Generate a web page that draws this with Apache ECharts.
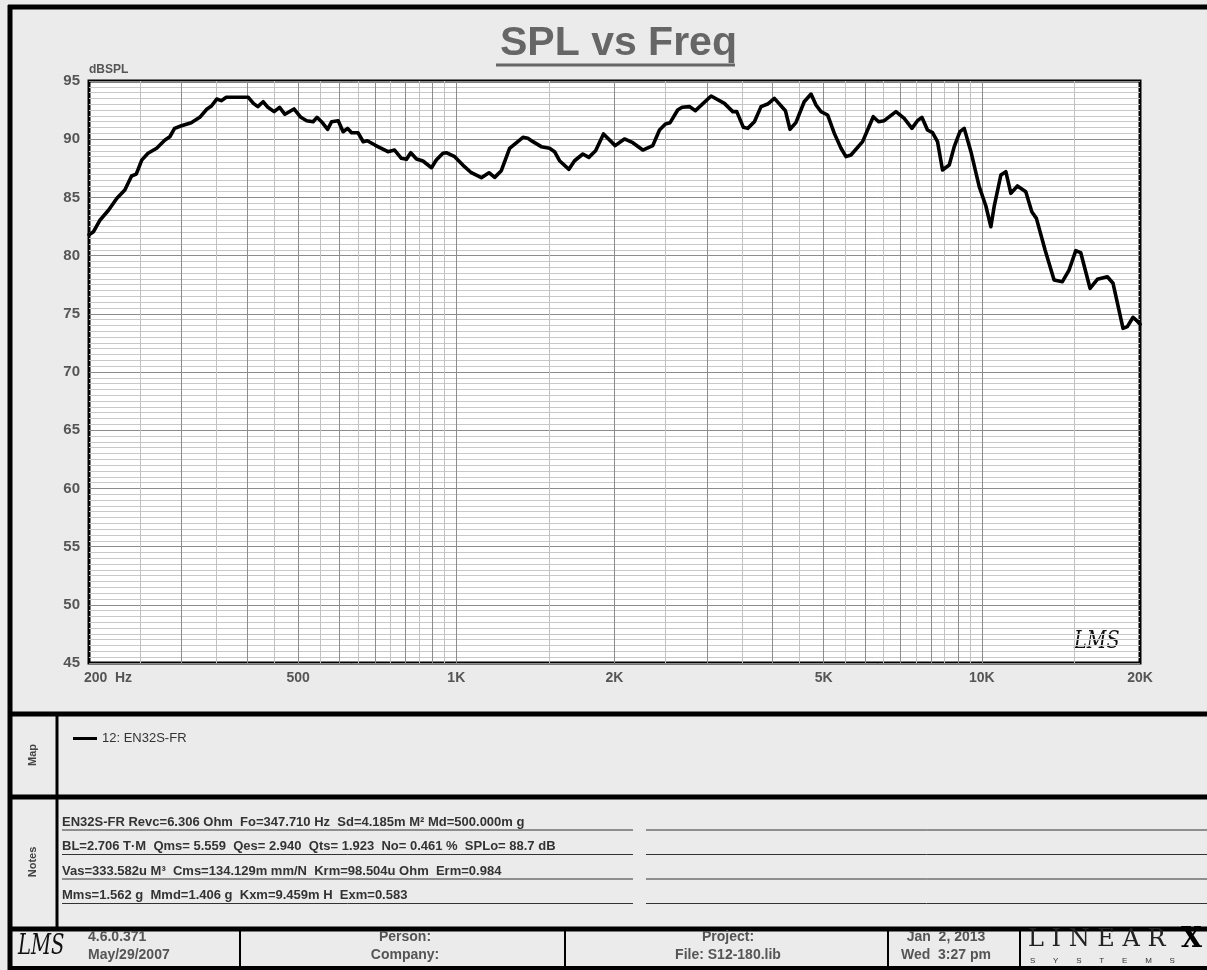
<!DOCTYPE html>
<html style="height: 100%">
  <head>
    <meta charset="utf-8" />
  </head>
  <body style="height: 100%; margin: 0">
    <div id="container" style="width: 1207px; height: 970px"></div>

    <script
      type="text/javascript"
      src="https://cdn.jsdelivr.net/npm/echarts@6/dist/echarts.min.js"
    ></script>

    <script type="text/javascript">
      var freqs = [
        200, 204, 210, 218, 226, 234, 241, 246, 252, 259, 269, 279, 285, 291,
        300, 313, 325, 335, 342, 350, 357, 365, 380, 402, 411, 419, 429, 438,
        450, 461, 472, 491, 506, 519, 534, 543, 554, 569, 579, 596, 609, 621,
        632, 650, 665, 677, 700, 720, 741, 763, 786, 804, 819, 840, 864, 897,
        916, 943, 957, 993, 1029, 1068, 1116, 1154, 1183, 1218, 1263, 1339,
        1368, 1399, 1451, 1505, 1538, 1572, 1638, 1679, 1741, 1787, 1841, 1906,
        2006, 2089, 2167, 2264, 2365, 2436, 2500, 2552, 2638, 2690, 2777, 2851,
        3054, 3237, 3358, 3417, 3518, 3585, 3692, 3801, 3913, 4030, 4229, 4315,
        4428, 4592, 4732, 4836, 4943, 5088, 5240, 5396, 5515, 5637, 5931, 6062,
        6215, 6362, 6522, 6865, 7118, 7362, 7544, 7691, 7882, 8058, 8236, 8418,
        8670, 8862, 9086, 9259, 9534, 9887, 10180, 10405, 10555, 10870, 11110,
        11357, 11688, 12126, 12448, 12703, 13195, 13725, 14234, 14657, 15094,
        15428, 16068, 16592, 17334, 17772, 18566, 18920, 19400, 19740, 20000
      ];
      var spl = [
        81.8, 82.05, 83.06, 83.92, 84.92, 85.64, 86.84, 87.0, 88.2, 88.79,
        89.22, 89.93, 90.21, 90.93, 91.16, 91.42, 91.88, 92.57, 92.85, 93.45,
        93.31, 93.6, 93.6, 93.6, 93.08, 92.8, 93.22, 92.74, 92.37, 92.74, 92.14,
        92.6, 91.88, 91.59, 91.5, 91.88, 91.5, 90.85, 91.5, 91.59, 90.64, 90.93,
        90.56, 90.56, 89.78, 89.87, 89.5, 89.22, 88.93, 89.07, 88.36, 88.27,
        88.84, 88.3, 88.13, 87.55, 88.21, 88.79, 88.84, 88.5, 87.78, 87.12,
        86.69, 87.12, 86.72, 87.29, 89.22, 90.16, 90.08, 89.79, 89.36, 89.22,
        88.93, 88.15, 87.41, 88.15, 88.73, 88.44, 89.01, 90.45, 89.45, 90.02,
        89.7, 89.07, 89.45, 90.79, 91.31, 91.42, 92.51, 92.74, 92.8, 92.45,
        93.71, 93.08, 92.37, 92.37, 91.02, 90.93, 91.5, 92.8, 93.02, 93.51,
        92.45, 90.85, 91.42, 93.22, 93.88, 92.94, 92.37, 92.08, 90.5, 89.22,
        88.5, 88.64, 89.79, 90.79, 91.93, 91.5, 91.59, 92.37, 91.79, 90.93,
        91.59, 91.88, 90.79, 90.56, 89.79, 87.35, 87.78, 89.36, 90.65, 90.93,
        88.93, 85.92, 84.26, 82.48, 84.2, 86.92, 87.21, 85.35, 85.98, 85.49,
        83.77, 83.2, 80.48, 77.9, 77.76, 78.76, 80.42, 80.25, 77.19, 77.96,
        78.18, 77.62, 73.75, 73.9, 74.7, 74.4, 74.1
      ];

      var seriesName = "12: EN32S-FR";
      var freqTicks = [200, 500, 1000, 2000, 5000, 10000, 20000];
      var freqTickLabels = ["200  Hz", "500", "1K", "2K", "5K", "10K", "20K"];
      // vertical grid: darker at whole hundreds/thousands, lighter at halves
      var gridMajor = [
        300, 400, 500, 600, 700, 800, 900, 1000, 2000, 3000, 4000, 5000, 6000,
        7000, 8000, 9000, 10000
      ];
      var gridMinor = [
        250, 350, 450, 550, 650, 750, 850, 950, 1500, 2500, 3500, 4500, 5500,
        6500, 7500, 8500, 9500, 15000
      ];

      var noteLines = [
        "EN32S-FR Revc=6.306 Ohm  Fo=347.710 Hz  Sd=4.185m M\u00b2 Md=500.000m g",
        "BL=2.706 T\u00b7M  Qms= 5.559  Qes= 2.940  Qts= 1.923  No= 0.461 %  SPLo= 88.7 dB",
        "Vas=333.582u M\u00b3  Cms=134.129m mm/N  Krm=98.504u Ohm  Erm=0.984",
        "Mms=1.562 g  Mmd=1.406 g  Kxm=9.459m H  Exm=0.583"
      ];

      var dom = document.getElementById("container");
      var myChart = echarts.init(dom);

      var FONT = "Liberation Sans, Arial, sans-serif";
      var GRAYTXT = "#555";

      var lineData = freqs.map(function (f, i) {
        return [f, spl[i]];
      });

      var gridLines = [];
      gridMajor.forEach(function (f) {
        gridLines.push({ xAxis: f, lineStyle: { color: "#8c8c8c", width: 1, type: "solid" } });
      });
      gridMinor.forEach(function (f) {
        gridLines.push({ xAxis: f, lineStyle: { color: "#c2c2c2", width: 1, type: "solid" } });
      });

      function hline(x1, x2, y, w, c) {
        return {
          type: "line",
          silent: true,
          shape: { x1: x1, y1: y, x2: x2, y2: y },
          style: { stroke: c || "#000", lineWidth: w }
        };
      }
      function vline(x, y1, y2, w, c) {
        return {
          type: "line",
          silent: true,
          shape: { x1: x, y1: y1, x2: x, y2: y2 },
          style: { stroke: c || "#000", lineWidth: w }
        };
      }
      function txt(s, x, y, opts) {
        opts = opts || {};
        return {
          type: "text",
          silent: true,
          x: x,
          y: y,
          rotation: opts.rotation || 0,
          scaleX: opts.scaleX || 1,
          style: {
            text: s,
            fill: opts.color || GRAYTXT,
            fontSize: opts.size || 13,
            fontWeight: opts.weight || "bold",
            fontStyle: opts.style || "normal",
            fontFamily: opts.family || FONT,
            align: opts.align || "left",
            verticalAlign: "middle",
            textAlign: opts.align || "left",
            textVerticalAlign: "middle"
          }
        };
      }

      var graphics = [];
      // frame
      graphics.push(hline(8, 1207, 7, 5));
      graphics.push(vline(10, 5, 970, 5));
      graphics.push(hline(8, 1207, 714, 5));
      graphics.push(hline(8, 1207, 797, 5));
      graphics.push(hline(8, 1207, 929, 5));
      graphics.push(hline(8, 1207, 968, 4));
      graphics.push(vline(57, 714, 929, 3));
      [240, 565, 888, 1020].forEach(function (x) {
        graphics.push(vline(x, 929, 968, 2));
      });
      // title underline
      graphics.push(hline(496, 735, 65, 3, "#666"));
      // side labels
      graphics.push(txt("Map", 33, 755, { size: 11, rotation: Math.PI / 2, align: "center", color: "#444" }));
      graphics.push(txt("Notes", 33, 862, { size: 11, rotation: Math.PI / 2, align: "center", color: "#444" }));
      // notes
      noteLines.forEach(function (s, i) {
        var y = 822 + i * 24.5;
        graphics.push(txt(s, 62, y, { size: 13, color: "#333" }));
        graphics.push(hline(62, 633, y + 8, 1, "#333"));
        graphics.push(hline(646, 1207, y + 8, 1, "#333"));
      });
      // footer
      graphics.push(txt("LMS", 18, 947, { size: 28, weight: "normal", style: "italic", color: "#111", family: "DejaVu Serif", scaleX: 0.7 }));
      graphics.push(txt("4.6.0.371", 88, 937, { size: 14 }));
      graphics.push(txt("May/29/2007", 88, 955, { size: 14 }));
      graphics.push(txt("Person:", 405, 937, { size: 14, align: "center" }));
      graphics.push(txt("Company:", 405, 955, { size: 14, align: "center" }));
      graphics.push(txt("Project:", 728, 937, { size: 14, align: "center" }));
      graphics.push(txt("File: S12-180.lib", 728, 955, { size: 14, align: "center" }));
      graphics.push(txt("Jan  2, 2013", 946, 937, { size: 14, align: "center" }));
      graphics.push(txt("Wed  3:27 pm", 946, 955, { size: 14, align: "center" }));
      graphics.push(txt("L I N E A R", 1028, 940, { size: 24, weight: "normal", color: "#222", family: "DejaVu Serif" }));
      graphics.push(txt("X", 1181, 940, { size: 27, weight: "bold", color: "#000", family: "DejaVu Serif" }));
      graphics.push(txt("S        Y        S        T        E        M        S", 1030, 961, { size: 8, weight: "normal", color: "#333" }));
      // logo inside the plot
      graphics.push(txt("LMS", 1074, 642, { size: 24, weight: "normal", style: "italic", color: "#111", family: "DejaVu Serif", scaleX: 0.8 }));

      var option = {
        backgroundColor: "#ebebeb",
        animation: false,
        title: {
          text: "SPL vs Freq",
          left: 495,
          top: 18,
          textStyle: {
            fontFamily: FONT,
            fontSize: 41,
            fontWeight: "bold",
            color: "#666"
          }
        },
        legend: {
          data: [seriesName],
          left: 68,
          top: 727,
          icon: "rect",
          itemWidth: 24,
          itemHeight: 3,
          itemGap: 6,
          textStyle: { fontFamily: FONT, fontSize: 13, color: "#333" }
        },
        grid: {
          left: 89,
          right: 67,
          top: 81,
          bottom: 307,
          show: true,
          backgroundColor: "#fff",
          borderColor: "#000",
          borderWidth: 3
        },
        xAxis: {
          type: "log",
          logBase: 10,
          min: 200,
          max: 20000,
          axisLine: { show: false },
          axisTick: { show: false },
          splitLine: { show: false },
          axisLabel: {
            customValues: freqTicks,
            margin: 8,
            fontFamily: FONT,
            fontSize: 14,
            fontWeight: "bold",
            color: GRAYTXT,
            formatter: function (v) {
              var i = freqTicks.indexOf(Math.round(v));
              if (i === 0) return "{a|" + freqTickLabels[0] + "}";
              return i >= 0 ? freqTickLabels[i] : "";
            },
            rich: {
              a: {
                fontFamily: FONT,
                fontSize: 14,
                fontWeight: "bold",
                color: GRAYTXT,
                padding: [0, 0, 0, 38]
              }
            }
          }
        },
        yAxis: {
          type: "value",
          min: 45,
          max: 95,
          interval: 5,
          name: "dBSPL",
          nameLocation: "end",
          nameGap: 5,
          nameTextStyle: {
            fontFamily: FONT,
            fontSize: 12,
            fontWeight: "bold",
            color: GRAYTXT,
            align: "left",
            verticalAlign: "bottom"
          },
          axisLine: { show: false },
          axisTick: { show: false },
          axisLabel: {
            margin: 9,
            fontFamily: FONT,
            fontSize: 15,
            fontWeight: "bold",
            color: GRAYTXT
          },
          splitLine: { lineStyle: { color: "#8c8c8c", width: 1 } },
          minorTick: { show: false, splitNumber: 10 },
          minorSplitLine: { show: true, lineStyle: { color: "#c8c8c8", width: 1 } }
        },
        graphic: graphics,
        series: [
          {
            name: "grid",
            type: "line",
            data: [],
            z: 1,
            silent: true,
            markLine: {
              silent: true,
              symbol: ["none", "none"],
              label: { show: false },
              emphasis: { disabled: true },
              lineStyle: { type: "solid" },
              data: gridLines
            }
          },
          {
            name: seriesName,
            type: "line",
            data: lineData,
            z: 5,
            showSymbol: false,
            symbol: "none",
            color: "#000",
            lineStyle: { color: "#000", width: 3.6, join: "round", cap: "round" }
          }
        ]
      };

      myChart.setOption(option);
    </script>
  </body>
</html>
